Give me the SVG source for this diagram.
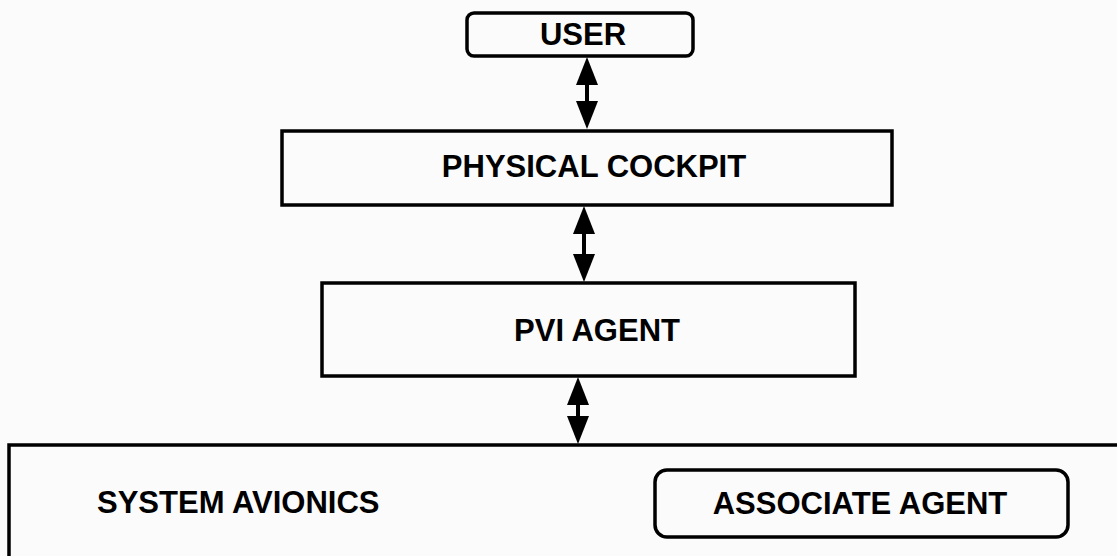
<svg xmlns="http://www.w3.org/2000/svg" width="1117" height="556" viewBox="0 0 1117 556">
  <style>
    .box { fill: none; stroke: #000; stroke-width: 3.5; }
    .lbl { font-family: "Liberation Sans", Arial, sans-serif; font-weight: bold; font-size: 31px; fill: #000; }
    .shaft { stroke: #000; stroke-width: 4; fill: none; marker-start: url(#head); marker-end: url(#head); }
  </style>
  <defs>
    <marker id="head" markerUnits="userSpaceOnUse" markerWidth="30" markerHeight="24" refX="0" refY="12" orient="auto-start-reverse" overflow="visible">
      <path d="M0,1 L28,12 L0,23 Z" fill="#000"/>
    </marker>
  </defs>
  <rect width="1117" height="556" fill="#fbfbfb"/>

  <g id="user">
    <rect class="box" x="467" y="13" width="226" height="43" rx="7"/>
    <text class="lbl" x="583" y="45" text-anchor="middle">USER</text>
  </g>

  <g id="physical-cockpit">
    <rect class="box" x="282" y="131" width="610" height="74"/>
    <text class="lbl" x="594" y="177" text-anchor="middle">PHYSICAL COCKPIT</text>
  </g>

  <g id="pvi-agent">
    <rect class="box" x="322" y="283" width="533" height="93"/>
    <text class="lbl" x="597" y="341" text-anchor="middle">PVI AGENT</text>
  </g>

  <g id="system-avionics">
    <path class="box" d="M9,560 V445 H1122"/>
    <text class="lbl" x="97" y="513">SYSTEM AVIONICS</text>
  </g>

  <g id="associate-agent">
    <rect class="box" x="655" y="470" width="413" height="67" rx="12"/>
    <text class="lbl" x="860" y="514" text-anchor="middle">ASSOCIATE AGENT</text>
  </g>

  <g id="connectors">
    <line class="shaft" x1="587" y1="85" x2="587" y2="101"/>
    <line class="shaft" x1="584" y1="234" x2="584" y2="254"/>
    <line class="shaft" x1="578" y1="405" x2="578" y2="416"/>
  </g>
</svg>
